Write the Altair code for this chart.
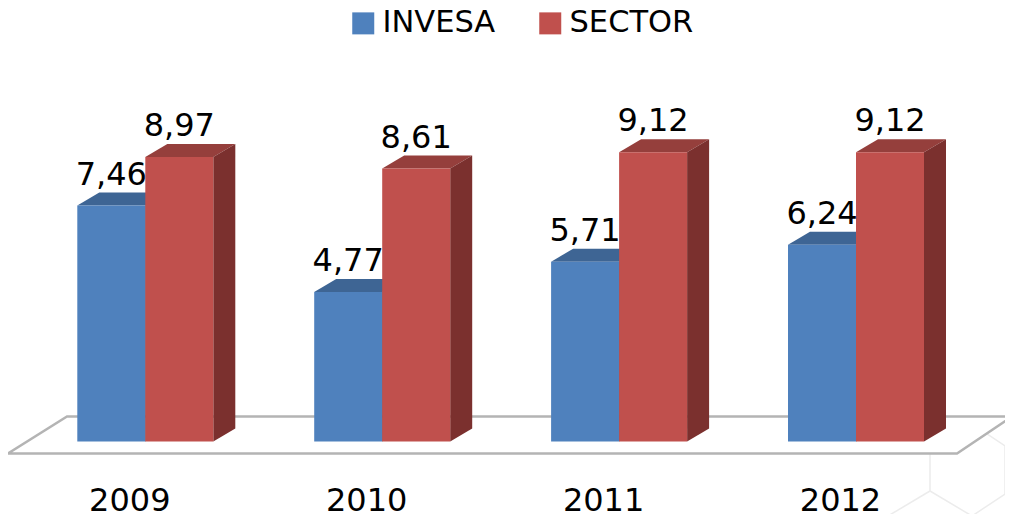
import altair as alt
import pandas as pd

years = ["2009", "2010", "2011", "2012"]
invesa = [7.46, 4.77, 5.71, 6.24]
sector = [8.97, 8.61, 9.12, 9.12]
series = ["INVESA", "SECTOR"]

FRONT = {"INVESA": "#4f81bd", "SECTOR": "#c0504d"}
TOP = {"INVESA": "#3e6594", "SECTOR": "#953f3c"}
SIDE = {"INVESA": "#335379", "SECTOR": "#7b302e"}

# geometry of the pseudo-3D scene, in scale units
PX_X, PX_Y = 236.9, 32.1        # pixels per group / per value unit
X_ORIGIN, Y_ORIGIN = 145.3, 445.0
W, H = 997, 506
BAR_W = 68 / PX_X
DX, DY = 22 / PX_X, 13 / PX_Y
BASE = (Y_ORIGIN - 441.5) / PX_Y


def ux(p):
    return (p - X_ORIGIN) / PX_X


def uy(p):
    return (Y_ORIGIN - p) / PX_Y


x_scale = alt.Scale(domain=[ux(8), ux(8 + W)], nice=False, zero=False)
y_scale = alt.Scale(domain=[uy(8 + H), uy(8)], nice=False, zero=False)

fronts, faces, labels = [], [], []
for i, year in enumerate(years):
    for s, (name, vals) in enumerate(zip(series, (invesa, sector))):
        v = vals[i]
        x0 = i + (s - 1) * BAR_W
        x1 = x0 + BAR_W
        fronts.append({"x0": x0, "x1": x1, "y0": BASE, "y1": v, "series": name})
        labels.append({"x": (x0 + x1) / 2, "y": v, "t": f"{v:.2f}".replace(".", ",")})
        fid = f"{year}-{name}"
        faces += [
            {"id": fid + "s", "kind": "side", "series": name, "x": x1, "y": BASE, "y2": v},
            {"id": fid + "s", "kind": "side", "series": name, "x": x1 + DX, "y": BASE + DY, "y2": v + DY},
            {"id": fid + "t", "kind": "top", "series": name, "x": x0, "y": v, "y2": v},
            {"id": fid + "t", "kind": "top", "series": name, "x": x0 + DX, "y": v, "y2": v + DY},
            {"id": fid + "t", "kind": "top", "series": name, "x": x1, "y": v, "y2": v + DY},
            {"id": fid + "t", "kind": "top", "series": name, "x": x1 + DX, "y": v + DY, "y2": v + DY},
        ]
fronts = pd.DataFrame(fronts)
faces = pd.DataFrame(faces)
labels = pd.DataFrame(labels)

fl, fb, fbr, fr = ux(8), ux(67), ux(1012), ux(957)
ff, fk = uy(453.5), uy(416.5)
floor_area = pd.DataFrame(
    {"x": [fl, fb, fr, fbr], "y": [ff, ff, ff, fk], "y2": [ff, fk, fk, fk]}
)
floor_line = pd.DataFrame(
    {"x": [fl, fb, fbr, fr, fl], "y": [ff, fk, fk, ff, ff], "o": [0, 1, 2, 3, 4]}
)

hex_pts = [(930, 452), (972, 424), (1005, 446), (1005, 494), (972, 516), (930, 491), (930, 452)]
hex_tail = [(930, 491), (888, 516)]
hex_df = pd.DataFrame(
    [{"x": ux(a), "y": uy(b), "o": k, "g": "h"} for k, (a, b) in enumerate(hex_pts)]
    + [{"x": ux(a), "y": uy(b), "o": k, "g": "t"} for k, (a, b) in enumerate(hex_tail)]
)

X = alt.X(
    "x:Q",
    scale=x_scale,
    title=None,
    axis=alt.Axis(
        values=[0, 1, 2, 3],
        labelExpr="[" + ",".join(f"'{y}'" for y in years) + "][datum.value]",
        labelFont="DejaVu Sans",
        labelFontSize=32,
        labelColor="#000000",
        labelPadding=0,
        labelOffset=-16,
        labelFlush=False,
        labelOverlap=False,
        offset=-29,
        domain=False,
        ticks=False,
        grid=False,
    ),
)
Y = alt.Y("y:Q", scale=y_scale, title=None, axis=None)

hexes = (
    alt.Chart(hex_df)
    .mark_line(color="#ececec", strokeWidth=1.5)
    .encode(x=X, y=Y, order="o:Q", detail="g:N")
)
floor_fill = (
    alt.Chart(floor_area).mark_area(color="#ffffff").encode(x=X, y=Y, y2="y2:Q")
)
floor_edge = (
    alt.Chart(floor_line)
    .mark_line(color="#b4b4b4", strokeWidth=2.5)
    .encode(x=X, y=Y, order="o:Q")
)

face_layers = []
for name in series:
    for kind, pal in (("top", TOP), ("side", SIDE)):
        sub = faces[(faces["series"] == name) & (faces["kind"] == kind)]
        face_layers.append(
            alt.Chart(sub)
            .mark_area(color=pal[name])
            .encode(x=X, y=Y, y2="y2:Q", detail="id:N")
        )

front = (
    alt.Chart(fronts)
    .mark_rect()
    .encode(
        x=alt.X("x0:Q", scale=x_scale, title=None),
        x2="x1:Q",
        y=alt.Y("y0:Q", scale=y_scale, title=None),
        y2="y1:Q",
        color=alt.Color(
            "series:N",
            scale=alt.Scale(domain=series, range=[FRONT[s] for s in series]),
            legend=alt.Legend(
                title=None,
                orient="none",
                legendX=340,
                legendY=0,
                direction="horizontal",
                symbolType="square",
                symbolSize=484,
                symbolStrokeWidth=0,
                labelFont="DejaVu Sans",
                labelFontSize=30.5,
                labelColor="#000000",
                labelOffset=4,
                columnPadding=39,
            ),
        ),
    )
)

text = (
    alt.Chart(labels)
    .mark_text(font="DejaVu Sans", fontSize=32, color="#000000", baseline="middle", dy=-31)
    .encode(x=X, y=Y, text="t:N")
)

chart = (
    alt.layer(hexes, floor_fill, floor_edge, *face_layers, front, text)
    .properties(
        width=W,
        height=H,
        padding=0,
        autosize=alt.AutoSizeParams(type="none"),
        background="#ffffff",
    )
    .configure_view(stroke=None)
)

chart.save("out.html", embed_options={"renderer": "svg", "actions": False})
